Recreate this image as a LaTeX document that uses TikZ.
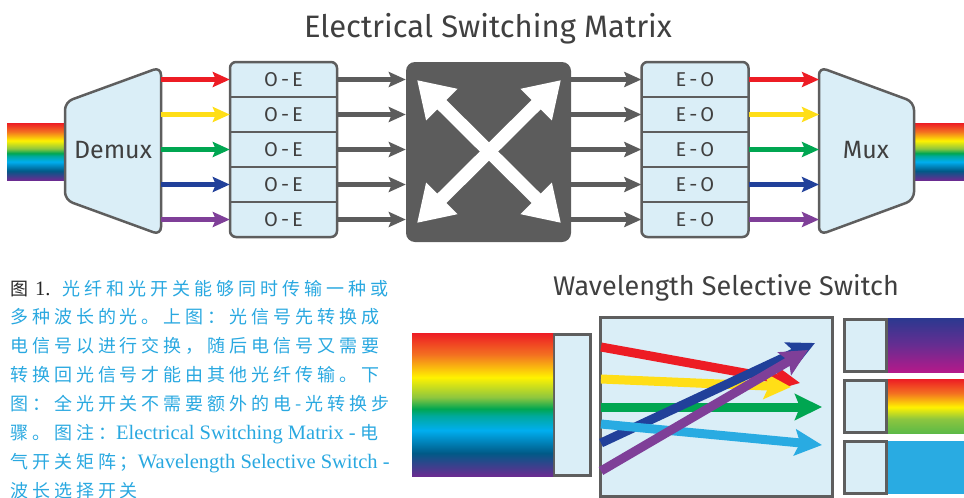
\documentclass[tikz,border=0pt]{standalone}
\usepackage{fontspec}
\setmainfont{Fira Sans}
\newfontfamily\cjk[LetterSpace=22]{Noto Sans CJK SC}
\newfontfamily\capserif{Liberation Serif}
\usetikzlibrary{arrows.meta}

\definecolor{boxfill}{HTML}{DAEEF7}
\definecolor{boxline}{HTML}{5E5E5E}
\definecolor{swgray}{HTML}{5C5C5C}
\definecolor{txtgray}{HTML}{404040}
\definecolor{capblue}{HTML}{29A8E0}
\definecolor{lred}{HTML}{ED1C24}
\definecolor{lyellow}{HTML}{FFDE17}
\definecolor{lgreen}{HTML}{00A651}
\definecolor{lblue}{HTML}{21409A}
\definecolor{lpurple}{HTML}{7F3F98}
\definecolor{lcyan}{HTML}{29ABE2}
\definecolor{rborange}{HTML}{F37021}
\definecolor{rbyellow}{HTML}{FFF200}
\definecolor{rblime}{HTML}{8DC63F}
\definecolor{rbteal}{HTML}{00A99D}
\definecolor{rbcyan}{HTML}{00AEEF}
\definecolor{rbnavy}{HTML}{005A87}
\definecolor{rbpurple}{HTML}{6A2C91}
\definecolor{swnavy}{HTML}{2B3990}
\definecolor{swmid}{HTML}{662D91}
\definecolor{swmag}{HTML}{B5198A}
\definecolor{swgreen}{HTML}{5CB947}

\pgfdeclareverticalshading{rainbow}{100bp}{color(0bp)=(rbpurple); color(25bp)=(rbpurple);
  color(33bp)=(rbnavy); color(41bp)=(rbcyan); color(46bp)=(rbteal); color(48.5bp)=(lgreen);
  color(52.5bp)=(rblime); color(59.5bp)=(rbyellow); color(67.5bp)=(rborange);
  color(75bp)=(lred); color(100bp)=(lred)}
\pgfdeclareverticalshading{swcool}{100bp}{color(0bp)=(swmag); color(25bp)=(swmag);
  color(50bp)=(swmid); color(75bp)=(swnavy); color(100bp)=(swnavy)}
\pgfdeclareverticalshading{swwarm}{100bp}{color(0bp)=(swgreen); color(25bp)=(swgreen);
  color(38bp)=(rblime); color(49bp)=(rbyellow); color(62bp)=(rborange);
  color(75bp)=(lred); color(100bp)=(lred)}

\newcommand\capl[1]{{\capserif\fontsize{20.5}{20.5}\selectfont #1}}
\newcommand\conv[2]{#1\hspace{3pt}-\hspace{3pt}#2}

\tikzset{
  unitbox/.style={draw=boxline, line width=2.5pt, fill=boxfill, rounded corners=6pt,
    minimum width=107pt, minimum height=175pt, inner sep=0pt},
  unitrow/.style={minimum width=107pt, minimum height=35pt, inner sep=0pt,
    font=\fontsize{20}{20}\selectfont, text=txtgray},
  divider/.style={draw=boxline, line width=2.5pt},
  sigarrow/.style={line width=4.7pt, -{Stealth[length=17pt,width=15pt,inset=3pt]}},
  wssarrow/.style={line width=9pt, -{Stealth[length=27pt,width=26pt,inset=5pt]}},
  muxshape/.style={draw=boxline, line width=2.5pt, fill=boxfill, rounded corners=8pt},
  portbox/.style={draw=boxline, line width=3pt, fill=boxfill, inner sep=0pt},
  heading/.style={text=txtgray, anchor=base},
  muxlabel/.style={font=\fontsize{25}{25}\selectfont, text=txtgray},
  captxt/.style={anchor=base west, inner sep=0pt, text=capblue, font=\cjk\fontsize{18}{18}\selectfont}
}

\begin{document}
\begin{tikzpicture}[x=1pt,y=-1pt]
\useasboundingbox (0,0) rectangle (964,498);

% electrical switching matrix
\node[heading, font=\fontsize{31}{31}\selectfont] (esm) at (488,37) {Electrical Switching Matrix};

\shade[shading=rainbow] (7,123) rectangle (66,180);
\shade[shading=rainbow] (913,123) rectangle (964,180);
\draw[muxshape] (65,102) -- (161,67) -- (161,235) -- (65,200) -- cycle;
\draw[muxshape] (819,67) -- (914,102) -- (914,200) -- (819,235) -- cycle;
\node[muxlabel] (demux) at (113,150) {Demux};
\node[muxlabel] (mux) at (866,150) {Mux};
\coordinate (demuxR) at (161,150);
\coordinate (muxL) at (819,150);

\node[unitbox] (oebox) at (283.5,149.5) {};
\node[unitrow] (oe1) at (283.5,79.5) {\conv{O}{E}};
\node[unitrow] (oe2) at (283.5,114.5) {\conv{O}{E}};
\node[unitrow] (oe3) at (283.5,149.5) {\conv{O}{E}};
\node[unitrow] (oe4) at (283.5,184.5) {\conv{O}{E}};
\node[unitrow] (oe5) at (283.5,219.5) {\conv{O}{E}};
\draw[divider] (oe1.south west) -- (oe1.south east);
\draw[divider] (oe2.south west) -- (oe2.south east);
\draw[divider] (oe3.south west) -- (oe3.south east);
\draw[divider] (oe4.south west) -- (oe4.south east);

\node[unitbox] (eobox) at (695,149.5) {};
\node[unitrow] (eo1) at (695,79.5) {\conv{E}{O}};
\node[unitrow] (eo2) at (695,114.5) {\conv{E}{O}};
\node[unitrow] (eo3) at (695,149.5) {\conv{E}{O}};
\node[unitrow] (eo4) at (695,184.5) {\conv{E}{O}};
\node[unitrow] (eo5) at (695,219.5) {\conv{E}{O}};
\draw[divider] (eo1.south west) -- (eo1.south east);
\draw[divider] (eo2.south west) -- (eo2.south east);
\draw[divider] (eo3.south west) -- (eo3.south east);
\draw[divider] (eo4.south west) -- (eo4.south east);

\node[fill=swgray, rounded corners=9pt, minimum width=165pt, minimum height=180pt] (sw) at (488.5,152) {};
\draw[white, line width=13pt, {Triangle[length=35pt,width=42pt]}-{Triangle[length=35pt,width=42pt]}] (417,80) -- (561,223);
\draw[white, line width=13pt, {Triangle[length=35pt,width=42pt]}-{Triangle[length=35pt,width=42pt]}] (561,80) -- (417,223);

\draw[sigarrow, lred] (demuxR |- oe1) -- (oe1.west);
\draw[sigarrow, lyellow] (demuxR |- oe2) -- (oe2.west);
\draw[sigarrow, lgreen] (demuxR |- oe3) -- (oe3.west);
\draw[sigarrow, lblue] (demuxR |- oe4) -- (oe4.west);
\draw[sigarrow, lpurple] (demuxR |- oe5) -- (oe5.west);

\draw[sigarrow, swgray] (oe1.east) -- (sw.west |- oe1);
\draw[sigarrow, swgray] (oe2.east) -- (sw.west |- oe2);
\draw[sigarrow, swgray] (oe3.east) -- (sw.west |- oe3);
\draw[sigarrow, swgray] (oe4.east) -- (sw.west |- oe4);
\draw[sigarrow, swgray] (oe5.east) -- (sw.west |- oe5);

\draw[sigarrow, swgray] (sw.east |- eo1) -- (eo1.west);
\draw[sigarrow, swgray] (sw.east |- eo2) -- (eo2.west);
\draw[sigarrow, swgray] (sw.east |- eo3) -- (eo3.west);
\draw[sigarrow, swgray] (sw.east |- eo4) -- (eo4.west);
\draw[sigarrow, swgray] (sw.east |- eo5) -- (eo5.west);

\draw[sigarrow, lred] (eo1.east) -- (muxL |- eo1);
\draw[sigarrow, lyellow] (eo2.east) -- (muxL |- eo2);
\draw[sigarrow, lgreen] (eo3.east) -- (muxL |- eo3);
\draw[sigarrow, lblue] (eo4.east) -- (muxL |- eo4);
\draw[sigarrow, lpurple] (eo5.east) -- (muxL |- eo5);

% wavelength selective switch
\node[heading, font=\fontsize{27}{27}\selectfont] (wsstitle) at (726,295) {Wavelength Selective Switch};

\node[portbox, minimum width=37pt, minimum height=141pt] (inport) at (571.5,404.5) {};
\shade[shading=rainbow] (412,333) rectangle (553,476);
\node[portbox, minimum width=232pt, minimum height=179pt] (wss) at (716,406.5) {};

\shade[shading=swcool] (886,318) rectangle (964,372);
\shade[shading=swwarm] (886,379) rectangle (964,433);
\fill[lcyan] (886,441) rectangle (964,494);
\node[portbox, minimum width=42pt, minimum height=52pt] (out1) at (865,345) {};
\node[portbox, minimum width=42pt, minimum height=52pt] (out2) at (865,406) {};
\node[portbox, minimum width=42pt, minimum height=52pt] (out3) at (865,467.5) {};

\draw[wssarrow, lred] (601,347) -- (800,383);
\draw[wssarrow, lyellow] (601,379) -- (791,387);
\draw[wssarrow, lgreen] (601,407) -- (822,407);
\draw[wssarrow, lblue] (601,443) -- (815,343);
\draw[wssarrow, lcyan] (601,424) -- (822,445);
\draw[wssarrow, lpurple] (601,471) -- (808,350);

% caption
\node[captxt] (cap1) at (10,295) {{\color{black!85}图}\hspace{7pt}\capl{\color{black!85}1.}\hspace{12pt}光纤和光开关能够同时传输一种或};
\node[captxt] (cap2) at (10,323.9) {多种波长的光。上图：光信号先转换成};
\node[captxt] (cap3) at (10,352.8) {电信号以进行交换，随后电信号又需要};
\node[captxt] (cap4) at (10,381.7) {转换回光信号才能由其他光纤传输。下};
\node[captxt] (cap5) at (10,410.6) {图：全光开关不需要额外的电-光转换步};
\node[captxt] (cap6) at (10,439.5) {骤。图注：\capl{Electrical Switching Matrix - }电};
\node[captxt] (cap7) at (10,468.4) {气开关矩阵；\capl{Wavelength Selective Switch -}};
\node[captxt] (cap8) at (10,497.3) {波长选择开关};
\end{tikzpicture}
\end{document}
